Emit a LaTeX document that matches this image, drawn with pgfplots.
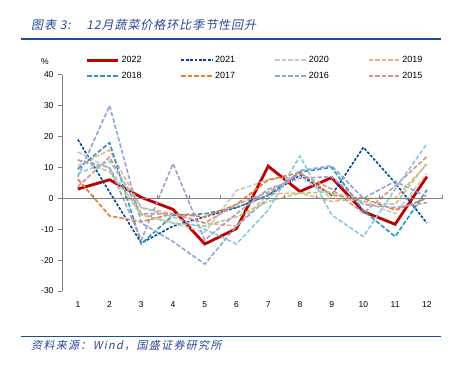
\documentclass[border=0pt]{standalone}
\usepackage{pgfplots}
\pgfplotsset{compat=1.18}
\usepackage{fontspec}
\setmainfont{Liberation Sans}
\newfontfamily\cjk[FakeSlant=0.2]{Noto Sans CJK SC}
\newfontfamily\cjktitle[FakeSlant=0.2,LetterSpace=8]{Noto Sans CJK SC}
\newfontfamily\cjksrc[FakeSlant=0.2,LetterSpace=12]{Noto Sans CJK SC}
\definecolor{cRed}{RGB}{192,0,0}
\definecolor{cDBlue}{RGB}{0,68,158}
\definecolor{cGray}{RGB}{200,200,200}
\definecolor{cLOrange}{RGB}{245,176,130}
\definecolor{cTeal}{RGB}{44,150,180}
\definecolor{cOrange}{RGB}{232,125,50}
\definecolor{cPeri}{RGB}{142,165,215}
\definecolor{cPink}{RGB}{215,145,145}
\definecolor{cGreen}{RGB}{170,205,140}
\definecolor{cPurple}{RGB}{170,155,200}
\definecolor{cLBlue}{RGB}{140,200,222}
\definecolor{cTitle}{RGB}{40,70,150}
\definecolor{cRule}{RGB}{30,75,155}
\begin{document}
\begin{tikzpicture}[x=1pt,y=1pt]
\useasboundingbox (0,0) rectangle (457,372);
\draw[cRule, line width=1.4pt] (21,333) -- (441,333);
\draw[cRule, line width=1.4pt] (21,35.3) -- (441,35.3);
\node[anchor=west, text=cTitle, font=\cjktitle\fontsize{12}{13}\selectfont, inner sep=0] at (31,347) {图表 3:\hspace{1.3em}12月蔬菜价格环比季节性回升};
\node[anchor=west, text=cTitle, font=\cjksrc\fontsize{11}{12}\selectfont, inner sep=0] at (31,27) {资料来源：Wind，国盛证券研究所};
\node[font=\fontsize{8.5}{9}\selectfont, inner sep=0] at (45,310) {\%};
\begin{axis}[
  at={(62pt,81pt)}, anchor=south west,
  scale only axis, width=380.7pt, height=216.3pt,
  xmin=0.5, xmax=12.5, ymin=-30, ymax=40,
  axis x line=none,
  axis y line*=left,
  y axis line style={draw=gray, line width=0.6pt},
  ytick={-30,-20,...,40},
  ytick style={draw=gray, line width=0.6pt},
  tick align=outside, major tick length=4pt,
  yticklabel style={font=\fontsize{8.5}{9}\selectfont, xshift=-1pt},
  /pgf/number format/assume math mode=true,
  clip=false,
  legend columns=4,
  legend style={at={(0.062,1.095)}, anchor=north west, draw=none, fill=none,
    font=\fontsize{9}{10}\selectfont, inner sep=0pt,
    /tikz/every even column/.append style={column sep=37pt},
    row sep=4pt},
  legend image code/.code={\draw (0pt,0pt) -- (31pt,0pt);},
  every axis plot/.append style={line width=1.6pt, dash pattern=on 4.5pt off 2pt},
]
\addplot[cRed, line width=2.8pt, solid] coordinates {(1,3) (2,6) (3,0.3) (4,-3.6) (5,-14.8) (6,-9.8) (7,10.4) (8,2.2) (9,6.7) (10,-4.3) (11,-8.4) (12,7)};
\addlegendentry{2022}
\addplot[cDBlue, dash pattern=on 2.8pt off 1.6pt] coordinates {(1,19) (2,2) (3,-14.5) (4,-9) (5,-6) (6,-3) (7,1) (8,7.5) (9,1) (10,16.5) (11,5) (12,-8)};
\addlegendentry{2021}
\addplot[cGray] coordinates {(1,15) (2,9.7) (3,-5) (4,-8) (5,-11) (6,2.5) (7,6) (8,7) (9,0) (10,-1) (11,-5) (12,8)};
\addlegendentry{2020}
\addplot[cLOrange] coordinates {(1,10.5) (2,15.6) (3,-3) (4,-5) (5,-8) (6,-9) (7,1.5) (8,1.7) (9,-1) (10,0) (11,0) (12,11)};
\addlegendentry{2019}
\addplot[cTeal] coordinates {(1,9.5) (2,18) (3,-14.7) (4,-5.5) (5,-5) (6,-3) (7,1) (8,8.5) (9,10) (10,-4) (11,-12.4) (12,2.7)};
\addlegendentry{2018}
\addplot[cOrange] coordinates {(1,6.2) (2,-5.7) (3,-7.6) (4,-5) (5,-6) (6,-2) (7,6) (8,8.3) (9,1) (10,0) (11,-3.8) (12,0)};
\addlegendentry{2017}
\addplot[cPeri] coordinates {(1,7) (2,30) (3,-8) (4,-14) (5,-21.3) (6,-9) (7,0) (8,9) (9,10.5) (10,0) (11,5.5) (12,0.5)};
\addlegendentry{2016}
\addplot[cPink] coordinates {(1,3.8) (2,13.3) (3,-5) (4,-5) (5,-8) (6,-2) (7,2) (8,8) (9,3) (10,-4.8) (11,4) (12,13.5)};
\addlegendentry{2015}
\addplot[cGreen, forget plot] coordinates {(1,12.4) (2,8.6) (3,-5.4) (4,-8) (5,-9) (6,-6) (7,-1) (8,1.7) (9,2) (10,-1) (11,-2) (12,11.4)};
\addplot[cPurple, forget plot] coordinates {(1,12.4) (2,10) (3,-13.5) (4,11.2) (5,-13.5) (6,-5) (7,3) (8,6.5) (9,7) (10,-2) (11,-3) (12,-1.4)};
\addplot[cLBlue, forget plot] coordinates {(1,8) (2,12) (3,-3) (4,-6) (5,-10) (6,-14.8) (7,-3.8) (8,13.7) (9,-5.4) (10,-12.4) (11,3) (12,17.6)};
\draw[gray, line width=0.6pt] (axis cs:0.5,0) -- (axis cs:12.5,0);
\pgfplotsinvokeforeach{1.5,2.5,3.5,4.5,5.5,6.5,7.5,8.5,9.5,10.5,11.5,12.5}{\draw[gray, line width=0.6pt] (axis cs:#1,0) -- ([yshift=3pt]axis cs:#1,0);}
\pgfplotsinvokeforeach{1,...,12}{\node[font=\fontsize{8.5}{9}\selectfont, anchor=center, yshift=-14pt] at (axis cs:#1,-30) {#1};}
\end{axis}
\end{tikzpicture}
\end{document}
